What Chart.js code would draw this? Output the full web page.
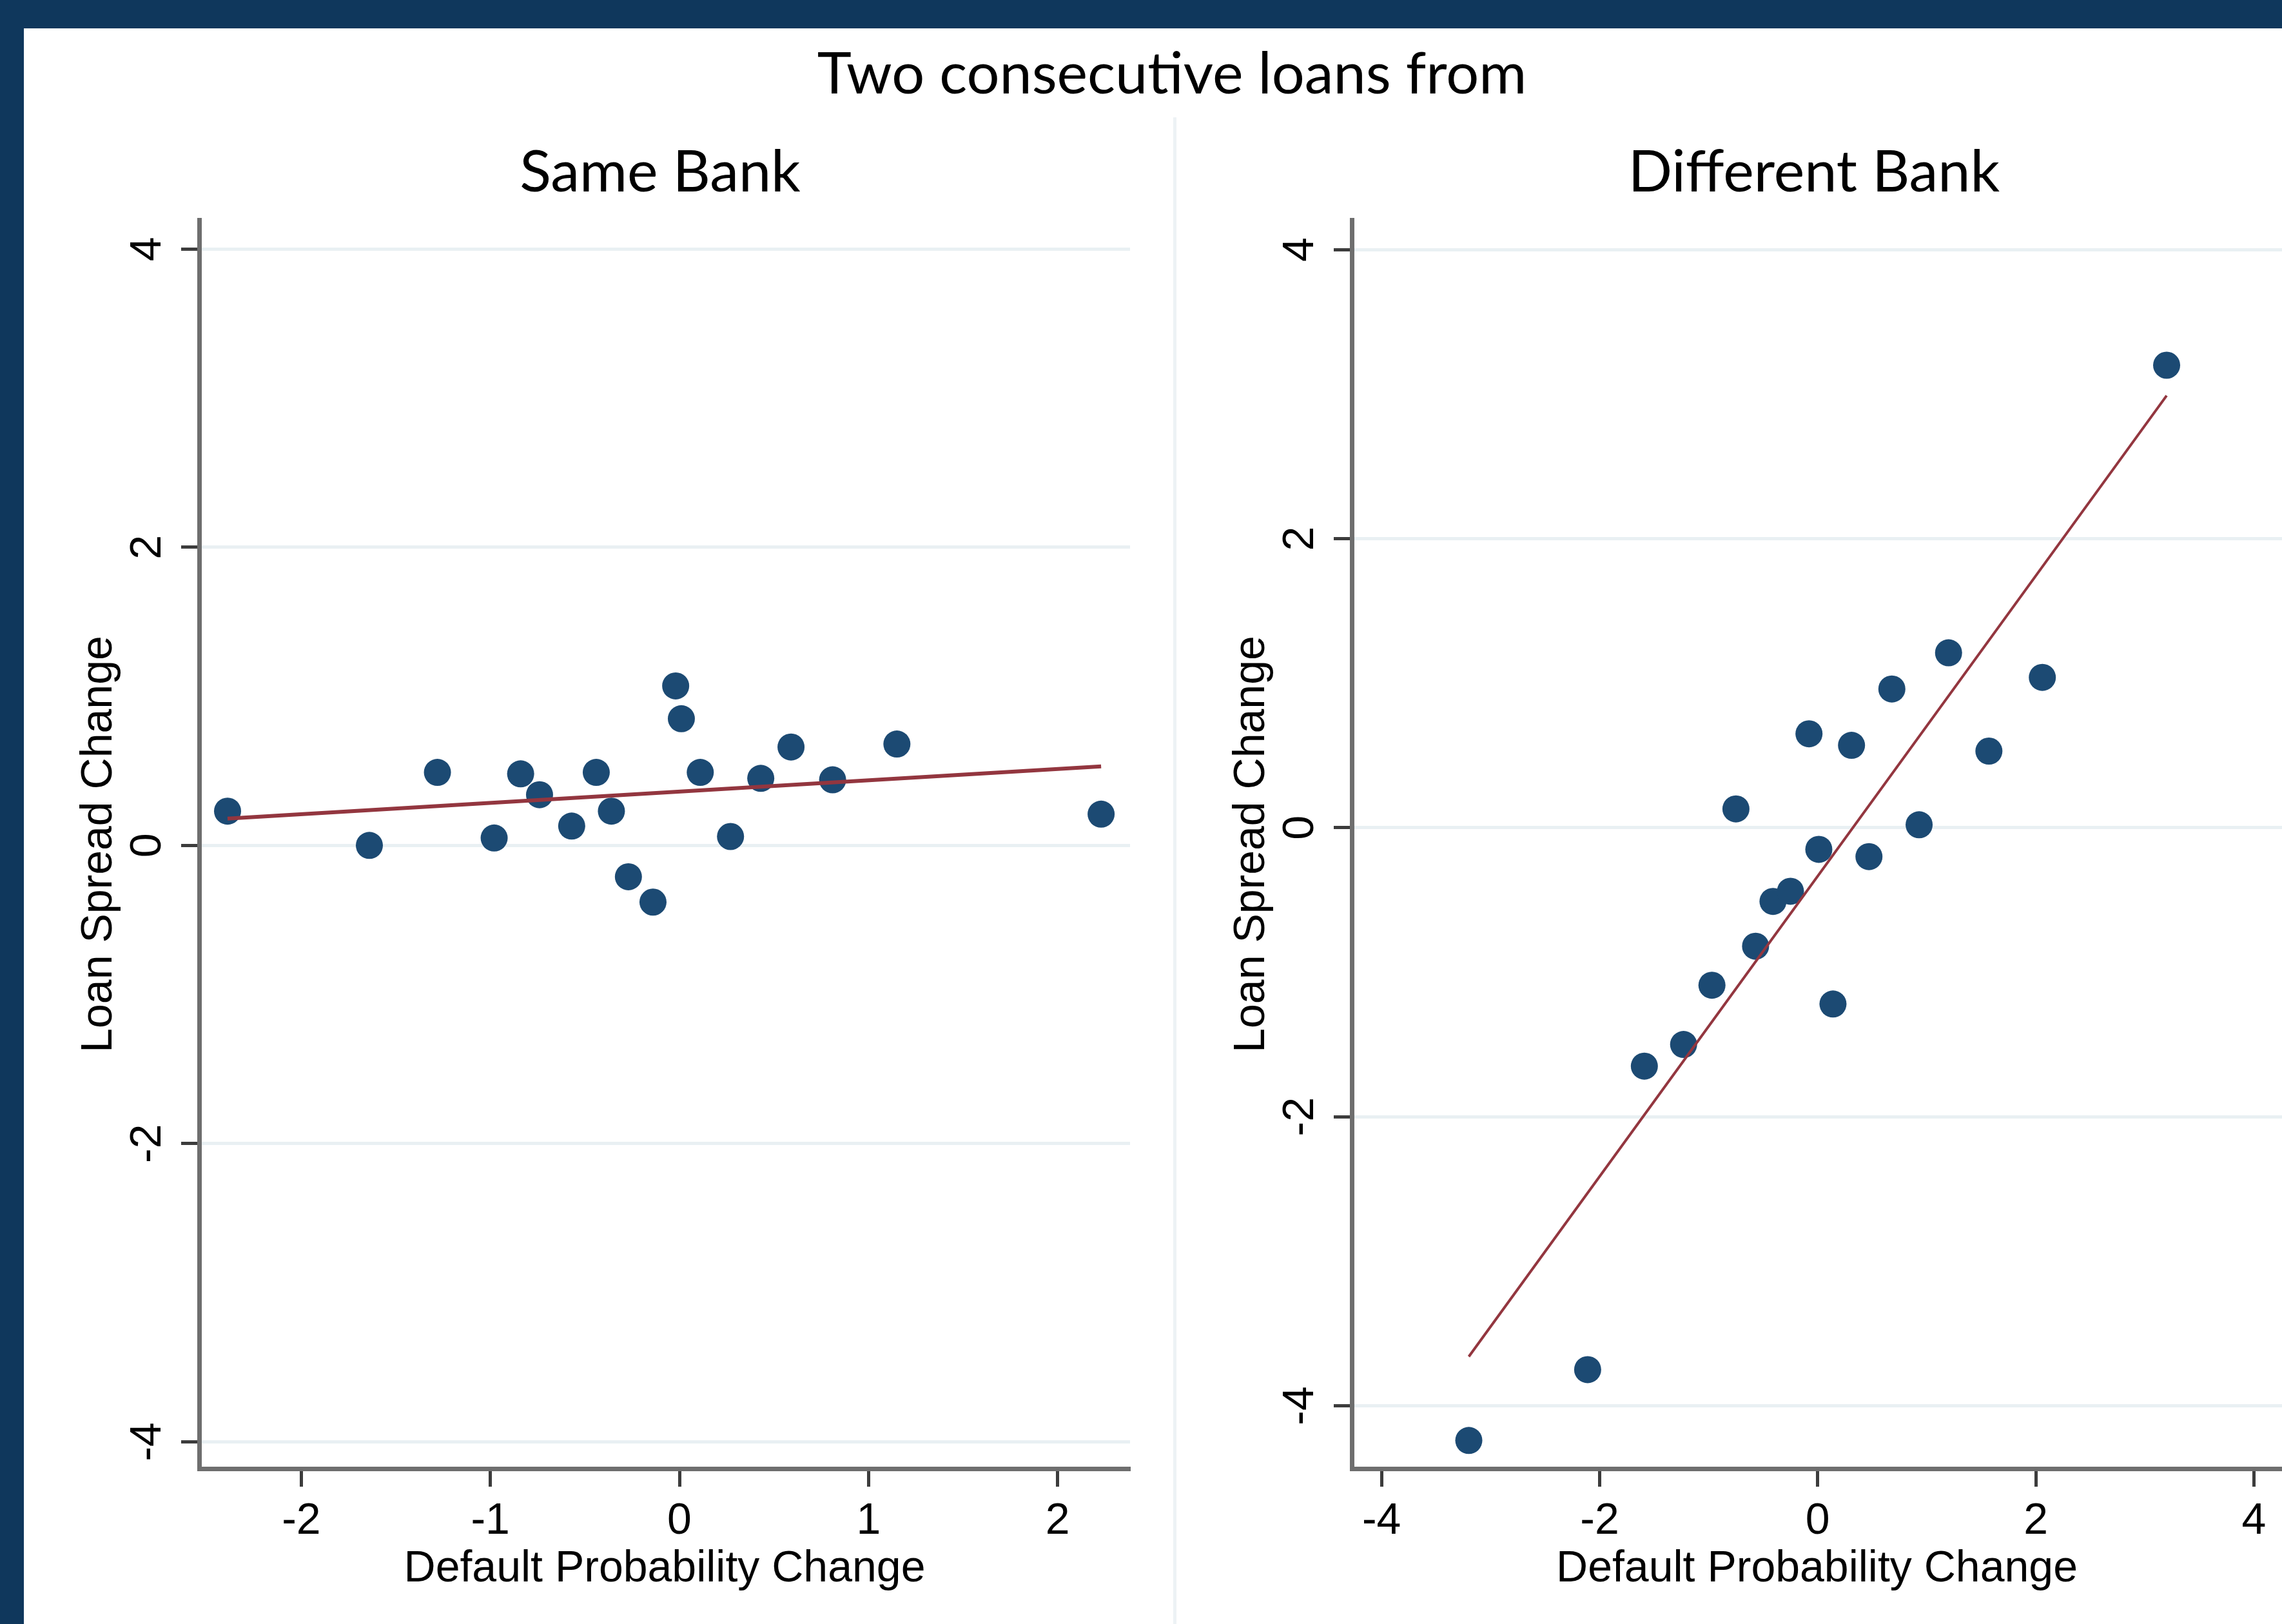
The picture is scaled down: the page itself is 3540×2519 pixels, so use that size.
<!DOCTYPE html>
<html lang="en">
<head>
<meta charset="UTF-8">
<title>Two consecutive loans from</title>
<script src="https://cdn.jsdelivr.net/npm/chart.js"></script>
<style>
  html, body { margin: 0; padding: 0; }
  body { width: 3540px; height: 2519px; position: relative; overflow: hidden; background: #fff; }
  .band-top { position: absolute; left: 0; top: 0; width: 3540px; height: 44px; background: #0F375C; }
  .band-left { position: absolute; left: 0; top: 0; width: 37px; height: 2519px; background: #0F375C; }
  .sep { position: absolute; left: 1820px; top: 182px; width: 5px; height: 2337px; background: #EDF2F5; }
  .ttl { position: absolute; font-family: Lato, "Open Sans", sans-serif; font-size: 90px; line-height: 90px;
         color: #000; white-space: nowrap; transform: translateX(-50%); z-index: 2; }
  .box { position: absolute; top: 261px; height: 2258px; }
</style>
</head>
<body>
<div class="band-top"></div>
<div class="band-left"></div>
<div class="sep"></div>

<div class="ttl" style="left:1818px; top:65px;">Two consecutive loans from</div>
<div class="ttl" style="left:1024px; top:217px;">Same Bank</div>
<div class="ttl" style="left:2814px; top:217px;">Different Bank</div>

<div class="box" style="left:49px; width:1773px;"><canvas id="same"></canvas></div>
<!-- right panel runs past the page edge, like the cropped original -->
<div class="box" style="left:1837px; width:1763px;"><canvas id="diff"></canvas></div>

<script>
// Same Bank : points
const sameX = [-2.39, -1.64, -1.28, -0.98, -0.84, -0.74, -0.57, -0.44, -0.36, -0.27, -0.14, -0.02, 0.01, 0.11, 0.27, 0.43, 0.59, 0.81, 1.15, 2.23];
const sameY = [0.23, 0.00, 0.49, 0.05, 0.48, 0.34, 0.13, 0.49, 0.23, -0.21, -0.38, 1.07, 0.85, 0.49, 0.06, 0.45, 0.66, 0.44, 0.68, 0.21];
const sameFitX = [-2.39, 2.23];
const sameFitY = [0.18, 0.53];
const sameXTicks = [-2, -1, 0, 1, 2];

// Different Bank
const diffX = [-3.20, -2.11, -1.59, -1.23, -0.97, -0.57, -0.41, -0.25, -0.75, -0.08, 0.01, 0.14, 0.31, 0.47, 0.68, 0.93, 1.20, 1.57, 2.06, 3.20];
const diffY = [-4.24, -3.75, -1.65, -1.50, -1.09, -0.82, -0.51, -0.44, 0.13, 0.65, -0.15, -1.22, 0.57, -0.20, 0.96, 0.02, 1.21, 0.53, 1.04, 3.20];
const diffFitX = [-3.20, 3.20];
const diffFitY = [-3.66, 2.99];
const diffXTicks = [-4, -2, 0, 2, 4];

const yTicks = [-4, -2, 0, 2, 4];

const navy = '#1C4A73';
const maroon = '#93363F';
const axisFont = { family: '"Liberation Sans", Arial, sans-serif', size: 68 };

function pts(xs, ys) {
    return xs.map((x, i) => ({ x: x, y: ys[i] }));
}

// one panel = one scatter chart with its fitted line
function panel(id, xs, ys, fx, fy, xTicks, xMin, xMax, yMin, yMax, fitWidth, padRight) {
    return new Chart(document.getElementById(id), {
        type: 'scatter',
        data: {
            datasets: [
                { type: 'line', data: pts(fx, fy), borderColor: maroon, borderWidth: fitWidth,
                  pointRadius: 0, fill: false, showLine: true },
                { data: pts(xs, ys), backgroundColor: navy, borderWidth: 0, pointRadius: 21 }
            ]
        },
        options: {
            responsive: true,
            maintainAspectRatio: false,
            animation: false,
            events: [],
            layout: { padding: { top: 80, left: 0, right: padRight, bottom: 0 } },
            plugins: { legend: { display: false }, tooltip: { enabled: false } },
            scales: {
                x: {
                    type: 'linear', min: xMin, max: xMax,
                    afterBuildTicks: (s) => { s.ticks = xTicks.map(v => ({ value: v })); },
                    afterFit: (s) => { s.height = 241; },
                    border: { color: '#6E6E6E', width: 7 },
                    grid: { drawOnChartArea: false, tickLength: 28, tickColor: '#3C3C3C', tickWidth: 5 },
                    ticks: { font: axisFont, color: '#000', padding: 13, maxRotation: 0, callback: v => String(v) },
                    title: { display: true, text: 'Default Probability Change', font: axisFont, color: '#000',
                             padding: { top: 0, bottom: 44 } }
                },
                y: {
                    type: 'linear', min: yMin, max: yMax,
                    afterBuildTicks: (s) => { s.ticks = yTicks.map(v => ({ value: v })); },
                    afterFit: (s) => { s.width = 260; },
                    border: { color: '#6E6E6E', width: 7 },
                    grid: { color: '#E9F0F3', lineWidth: 5, tickLength: 28, tickColor: '#3C3C3C', tickWidth: 5 },
                    ticks: { font: axisFont, color: '#000', padding: 21, minRotation: 90, maxRotation: 90,
                             crossAlign: 'center', callback: v => String(v) },
                    title: { display: true, text: 'Loan Spread Change', font: axisFont, color: '#000',
                             padding: { top: 64, bottom: 0 } }
                }
            }
        }
    });
}

panel('same', sameX, sameY, sameFitX, sameFitY, sameXTicks, -2.54, 2.383, -4.18, 4.196, 6, 69);
panel('diff', diffX, diffY, diffFitX, diffFitY, diffXTicks, -4.273, 4.258, -4.435, 4.206, 4, 60);
</script>
</body>
</html>
